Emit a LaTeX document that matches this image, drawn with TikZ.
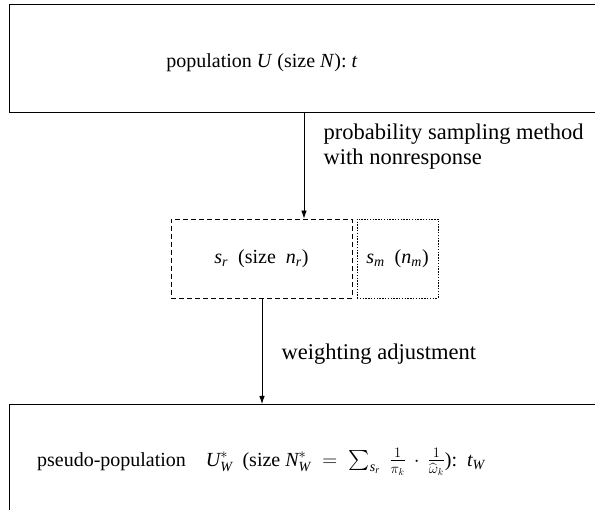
\documentclass[tikz,border=0pt]{standalone}
\usepackage{amsmath,amssymb}
\usepackage{fontspec}
\setmainfont{Liberation Serif}
\usetikzlibrary{arrows.meta}

\newcommand{\iv}[1]{\textit{#1}}

\begin{document}
\begin{tikzpicture}[x=1pt,y=-1pt,
    line width=0.8pt,
    bigbox/.style={draw, inner sep=0pt, anchor=north west, minimum width=700pt},
    respbox/.style={draw, inner sep=0pt, dash pattern=on 5pt off 3pt},
    missbox/.style={draw, inner sep=0pt, dash pattern=on 1.4pt off 1.4pt},
    boxtext/.style={font=\fontsize{20}{24}\selectfont},
    steplabel/.style={font=\fontsize{22.5}{25}\selectfont, align=left, anchor=base west},
    flow/.style={-{Latex[length=8pt,width=5.5pt]}}]
    \clip (0,0) rectangle (595,510);

    \node[bigbox, minimum height=108pt] (popbox) at (9,4) {};
    \node[boxtext] (poptext) at (262,63) {population \iv{U} (size \iv{N}): \iv{t}};

    \node[respbox, boxtext, minimum width=181pt, minimum height=79pt] (srbox) at (261.5,258.5)
        {$\iv{s}_{\iv{r}}$\enspace(size\enspace$\iv{n}_{\iv{r}}$)};
    \node[missbox, boxtext, minimum width=81pt, minimum height=79pt] (smbox) at (397.5,258.5)
        {$\iv{s}_{\iv{m}}$\enspace($\iv{n}_{\iv{m}}$)};

    \node[bigbox, minimum height=150pt] (pseudobox) at (9,404) {};
    \node[boxtext] (pseudotext) at (261,462)
        {pseudo-population\quad $\iv{U}^{*}_{\iv{W}}$\enspace(size $\iv{N}^{*}_{\iv{W}} \;=\; \sum_{\iv{s}_{\iv{r}}}\;\frac{1}{\pi_k}\,\cdot\,\frac{1}{\widehat{\omega}_k}$):\enspace $\iv{t}_{\iv{W}}$};

    \coordinate (downA) at (304,0);
    \coordinate (downB) at (262,0);
    \draw[flow] (popbox.south -| downA) -- (srbox.north -| downA);
    \draw[flow] (srbox.south -| downB) -- (pseudobox.north -| downB);

    \node[steplabel] (samplelabel) at (320,165) {probability sampling method\\with nonresponse};
    \node[steplabel] (weightlabel) at (278,360) {weighting adjustment};
\end{tikzpicture}
\end{document}
